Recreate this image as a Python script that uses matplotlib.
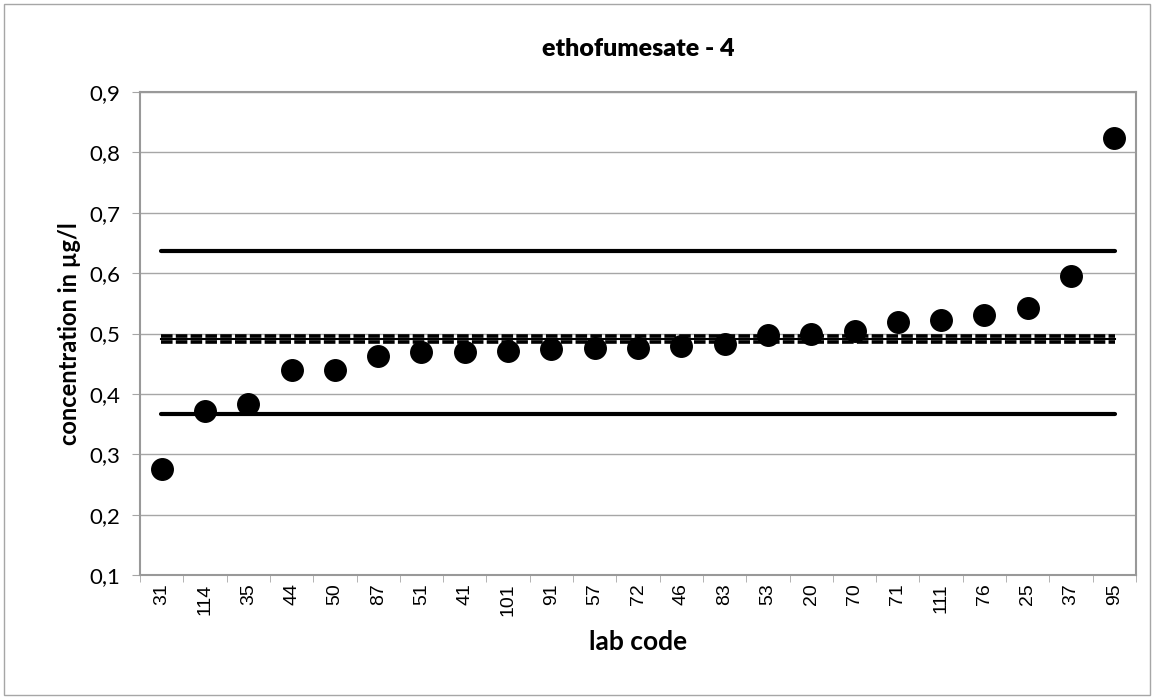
import matplotlib.pyplot as plt
import numpy as np
from matplotlib.patches import Rectangle

# lab codes (x categories) and reported concentrations
lab_codes = ["31", "114", "35", "44", "50", "87", "51", "41", "101", "91", "57", "72",
             "46", "83", "53", "20", "70", "71", "111", "76", "25", "37", "95"]
concentrations = [0.275, 0.371, 0.384, 0.439, 0.440, 0.463, 0.469, 0.469, 0.471, 0.475,
                  0.476, 0.476, 0.480, 0.483, 0.498, 0.499, 0.504, 0.519, 0.523, 0.530,
                  0.543, 0.595, 0.824]

# reference lines
upper_limit = 0.636
lower_limit = 0.366
assigned_value = 0.491
assigned_band = [0.4965, 0.4855]

y_ticks = [0.1, 0.2, 0.3, 0.4, 0.5, 0.6, 0.7, 0.8, 0.9]


def main():
    fig = plt.figure(figsize=(11.57, 6.99), dpi=100)
    ax = fig.add_axes([140 / 1157, 1 - 575 / 699, 996 / 1157, 483 / 699])

    # outer chart border
    fig.patches.append(Rectangle((4 / 1157, 4 / 699), 1146 / 1157, 691 / 699,
                                 transform=fig.transFigure, fill=False,
                                 edgecolor="#a6a6a6", linewidth=1.0))

    n = len(lab_codes)
    x = np.arange(n)
    x_start, x_end = x[0] - 0.01, x[-1] + 0.01

    ax.set_ylim(0.1, 0.9)
    ax.set_xlim(-0.5, n - 0.5)
    ax.set_yticks(y_ticks)
    ax.set_yticklabels([f"{v:.1f}".replace(".", ",") for v in y_ticks],
                       fontsize=16, family="Lato")
    ax.yaxis.grid(True, color="#a6a6a6", linewidth=1.0)
    ax.set_axisbelow(True)

    # limit lines
    ax.plot([x_start, x_end], [upper_limit, upper_limit], color="black", lw=3,
            solid_capstyle="round")
    ax.plot([x_start, x_end], [lower_limit, lower_limit], color="black", lw=3,
            solid_capstyle="round")
    ax.plot([x_start, x_end], [assigned_value, assigned_value], color="black", lw=1.5)
    for v in assigned_band:
        ax.plot([x_start, x_end], [v, v], color="black", lw=2.6,
                dashes=(3.2, 0.9), dash_capstyle="butt")

    # lab results
    ax.plot(x, concentrations, "o", color="black", markersize=15.5, zorder=5)

    ax.set_xticks(x)
    ax.set_xticklabels(lab_codes, rotation=90, fontsize=14, family="Liberation Sans")
    ax.set_xticks(np.arange(n + 1) - 0.5, minor=True)
    ax.tick_params(axis="x", which="major", length=0, pad=6)
    ax.tick_params(axis="x", which="minor", length=5, color="#a6a6a6")
    ax.tick_params(axis="y", length=6, color="#a6a6a6", pad=8)

    for side in ["left", "bottom", "right", "top"]:
        ax.spines[side].set_color("#999999")
        ax.spines[side].set_linewidth(1.5)

    ax.set_title("ethofumesate - 4", fontsize=18, fontweight="heavy", family="Lato", pad=26)
    ax.set_xlabel("lab code", fontsize=19, fontweight="bold", family="Lato", labelpad=10)
    ax.set_ylabel("concentration in µg/l", fontsize=17, fontweight="bold", family="Lato",
                  labelpad=6)

    fig.savefig("out.png", dpi=100)


if __name__ == "__main__":
    main()
